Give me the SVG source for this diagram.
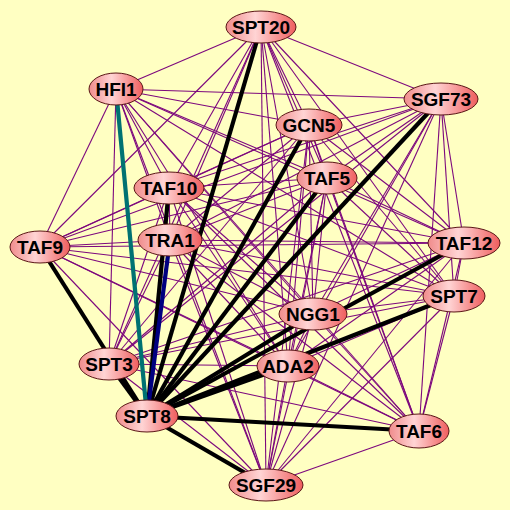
<svg xmlns="http://www.w3.org/2000/svg" width="510" height="510" viewBox="0 0 510 510">
<defs>
<linearGradient id="g" x1="0" y1="0" x2="1" y2="0">
<stop offset="0" stop-color="#f08c8c"/>
<stop offset="0.42" stop-color="#ffd4d4"/>
<stop offset="1" stop-color="#ef5e5e"/>
</linearGradient>
<style>
.e{stroke:#7d087d;stroke-width:1.1;fill:none}
.t{stroke:#000;stroke-width:4.2;fill:none}
.n ellipse{fill:url(#g);stroke:#5a1616;stroke-width:1}
.n text{font-family:"Liberation Sans",Arial,sans-serif;font-weight:bold;font-size:19px;fill:#000;text-anchor:middle}
</style>
</defs>
<rect width="510" height="510" fill="#ffffc2"/>
<g id="edges">
<line class="e" x1="261" y1="27" x2="116" y2="89"/>
<line class="e" x1="261" y1="27" x2="441" y2="99"/>
<line class="e" x1="261" y1="27" x2="309" y2="125"/>
<line class="e" x1="261" y1="27" x2="327" y2="178"/>
<line class="e" x1="261" y1="27" x2="169" y2="188"/>
<line class="e" x1="261" y1="27" x2="170" y2="240"/>
<line class="e" x1="261" y1="27" x2="40" y2="247"/>
<line class="e" x1="261" y1="27" x2="464" y2="243"/>
<line class="e" x1="261" y1="27" x2="454" y2="296"/>
<line class="e" x1="261" y1="27" x2="313" y2="314"/>
<line class="e" x1="261" y1="27" x2="288" y2="366"/>
<line class="e" x1="261" y1="27" x2="109" y2="364"/>
<line class="e" x1="261" y1="27" x2="419" y2="431"/>
<line class="e" x1="261" y1="27" x2="266" y2="485"/>
<line class="e" x1="116" y1="89" x2="441" y2="99"/>
<line class="e" x1="116" y1="89" x2="309" y2="125"/>
<line class="e" x1="116" y1="89" x2="327" y2="178"/>
<line class="e" x1="116" y1="89" x2="169" y2="188"/>
<line class="e" x1="116" y1="89" x2="170" y2="240"/>
<line class="e" x1="116" y1="89" x2="40" y2="247"/>
<line class="e" x1="116" y1="89" x2="464" y2="243"/>
<line class="e" x1="116" y1="89" x2="454" y2="296"/>
<line class="e" x1="116" y1="89" x2="313" y2="314"/>
<line class="e" x1="116" y1="89" x2="288" y2="366"/>
<line class="e" x1="116" y1="89" x2="109" y2="364"/>
<line class="e" x1="116" y1="89" x2="419" y2="431"/>
<line class="e" x1="116" y1="89" x2="266" y2="485"/>
<line class="e" x1="441" y1="99" x2="309" y2="125"/>
<line class="e" x1="441" y1="99" x2="327" y2="178"/>
<line class="e" x1="441" y1="99" x2="169" y2="188"/>
<line class="e" x1="441" y1="99" x2="170" y2="240"/>
<line class="e" x1="441" y1="99" x2="40" y2="247"/>
<line class="e" x1="441" y1="99" x2="464" y2="243"/>
<line class="e" x1="441" y1="99" x2="454" y2="296"/>
<line class="e" x1="441" y1="99" x2="313" y2="314"/>
<line class="e" x1="441" y1="99" x2="288" y2="366"/>
<line class="e" x1="441" y1="99" x2="109" y2="364"/>
<line class="e" x1="441" y1="99" x2="419" y2="431"/>
<line class="e" x1="441" y1="99" x2="266" y2="485"/>
<line class="e" x1="309" y1="125" x2="327" y2="178"/>
<line class="e" x1="309" y1="125" x2="169" y2="188"/>
<line class="e" x1="309" y1="125" x2="170" y2="240"/>
<line class="e" x1="309" y1="125" x2="40" y2="247"/>
<line class="e" x1="309" y1="125" x2="464" y2="243"/>
<line class="e" x1="309" y1="125" x2="454" y2="296"/>
<line class="e" x1="309" y1="125" x2="313" y2="314"/>
<line class="e" x1="309" y1="125" x2="288" y2="366"/>
<line class="e" x1="309" y1="125" x2="109" y2="364"/>
<line class="e" x1="309" y1="125" x2="419" y2="431"/>
<line class="e" x1="309" y1="125" x2="266" y2="485"/>
<line class="e" x1="327" y1="178" x2="169" y2="188"/>
<line class="e" x1="327" y1="178" x2="170" y2="240"/>
<line class="e" x1="327" y1="178" x2="40" y2="247"/>
<line class="e" x1="327" y1="178" x2="464" y2="243"/>
<line class="e" x1="327" y1="178" x2="454" y2="296"/>
<line class="e" x1="327" y1="178" x2="313" y2="314"/>
<line class="e" x1="327" y1="178" x2="288" y2="366"/>
<line class="e" x1="327" y1="178" x2="109" y2="364"/>
<line class="e" x1="327" y1="178" x2="419" y2="431"/>
<line class="e" x1="327" y1="178" x2="266" y2="485"/>
<line class="e" x1="169" y1="188" x2="170" y2="240"/>
<line class="e" x1="169" y1="188" x2="40" y2="247"/>
<line class="e" x1="169" y1="188" x2="464" y2="243"/>
<line class="e" x1="169" y1="188" x2="454" y2="296"/>
<line class="e" x1="169" y1="188" x2="313" y2="314"/>
<line class="e" x1="169" y1="188" x2="288" y2="366"/>
<line class="e" x1="169" y1="188" x2="109" y2="364"/>
<line class="e" x1="169" y1="188" x2="419" y2="431"/>
<line class="e" x1="169" y1="188" x2="266" y2="485"/>
<line class="e" x1="170" y1="240" x2="40" y2="247"/>
<line class="e" x1="170" y1="240" x2="464" y2="243"/>
<line class="e" x1="170" y1="240" x2="454" y2="296"/>
<line class="e" x1="170" y1="240" x2="313" y2="314"/>
<line class="e" x1="170" y1="240" x2="288" y2="366"/>
<line class="e" x1="170" y1="240" x2="109" y2="364"/>
<line class="e" x1="170" y1="240" x2="419" y2="431"/>
<line class="e" x1="170" y1="240" x2="266" y2="485"/>
<line class="e" x1="40" y1="247" x2="464" y2="243"/>
<line class="e" x1="40" y1="247" x2="454" y2="296"/>
<line class="e" x1="40" y1="247" x2="313" y2="314"/>
<line class="e" x1="40" y1="247" x2="288" y2="366"/>
<line class="e" x1="40" y1="247" x2="419" y2="431"/>
<line class="e" x1="40" y1="247" x2="266" y2="485"/>
<line class="e" x1="464" y1="243" x2="454" y2="296"/>
<line class="e" x1="464" y1="243" x2="313" y2="314"/>
<line class="e" x1="464" y1="243" x2="288" y2="366"/>
<line class="e" x1="464" y1="243" x2="109" y2="364"/>
<line class="e" x1="464" y1="243" x2="419" y2="431"/>
<line class="e" x1="464" y1="243" x2="266" y2="485"/>
<line class="e" x1="454" y1="296" x2="313" y2="314"/>
<line class="e" x1="454" y1="296" x2="288" y2="366"/>
<line class="e" x1="454" y1="296" x2="109" y2="364"/>
<line class="e" x1="454" y1="296" x2="419" y2="431"/>
<line class="e" x1="454" y1="296" x2="266" y2="485"/>
<line class="e" x1="313" y1="314" x2="288" y2="366"/>
<line class="e" x1="313" y1="314" x2="109" y2="364"/>
<line class="e" x1="313" y1="314" x2="419" y2="431"/>
<line class="e" x1="313" y1="314" x2="266" y2="485"/>
<line class="e" x1="288" y1="366" x2="109" y2="364"/>
<line class="e" x1="288" y1="366" x2="419" y2="431"/>
<line class="e" x1="288" y1="366" x2="266" y2="485"/>
<line class="e" x1="109" y1="364" x2="419" y2="431"/>
<line class="e" x1="109" y1="364" x2="266" y2="485"/>
<line class="e" x1="419" y1="431" x2="266" y2="485"/>
<line class="t" x1="147" y1="416" x2="261" y2="27"/>
<line class="t" x1="147" y1="416" x2="441" y2="99"/>
<line class="t" x1="147" y1="416" x2="309" y2="125"/>
<line class="t" x1="147" y1="416" x2="327" y2="178"/>
<line class="t" x1="147" y1="416" x2="169" y2="188"/>
<line class="t" x1="147" y1="416" x2="40" y2="247"/>
<line class="t" x1="147" y1="416" x2="109" y2="364"/>
<line class="t" x1="147" y1="416" x2="464" y2="243"/>
<line class="t" x1="147" y1="416" x2="454" y2="296"/>
<line class="t" x1="147" y1="416" x2="313" y2="314"/>
<line class="t" x1="147" y1="416" x2="288" y2="366"/>
<line class="t" x1="147" y1="416" x2="419" y2="431"/>
<line class="t" x1="147" y1="416" x2="266" y2="485"/>
<line class="t" x1="147" y1="416" x2="170" y2="240" style="stroke:#000080"/>
<line class="t" x1="147" y1="416" x2="116" y2="89" style="stroke:#007272"/>
</g>
<g id="n-SPT20" class="n"><ellipse cx="261" cy="27" rx="35" ry="16"/><text x="261" y="34">SPT20</text></g>
<g id="n-HFI1" class="n"><ellipse cx="116" cy="89" rx="27" ry="16"/><text x="116" y="96">HFI1</text></g>
<g id="n-SGF73" class="n"><ellipse cx="441" cy="99" rx="37" ry="16"/><text x="441" y="106">SGF73</text></g>
<g id="n-GCN5" class="n"><ellipse cx="309" cy="125" rx="33" ry="16"/><text x="309" y="132">GCN5</text></g>
<g id="n-TAF5" class="n"><ellipse cx="327" cy="178" rx="30" ry="16"/><text x="327" y="185">TAF5</text></g>
<g id="n-TAF10" class="n"><ellipse cx="169" cy="188" rx="35" ry="16"/><text x="169" y="195">TAF10</text></g>
<g id="n-TRA1" class="n"><ellipse cx="170" cy="240" rx="32" ry="16"/><text x="170" y="247">TRA1</text></g>
<g id="n-TAF9" class="n"><ellipse cx="40" cy="247" rx="30" ry="16"/><text x="40" y="254">TAF9</text></g>
<g id="n-TAF12" class="n"><ellipse cx="464" cy="243" rx="36" ry="16"/><text x="464" y="250">TAF12</text></g>
<g id="n-SPT7" class="n"><ellipse cx="454" cy="296" rx="31" ry="16"/><text x="454" y="303">SPT7</text></g>
<g id="n-NGG1" class="n"><ellipse cx="313" cy="314" rx="34" ry="16"/><text x="313" y="321">NGG1</text></g>
<g id="n-ADA2" class="n"><ellipse cx="288" cy="366" rx="31" ry="16"/><text x="288" y="373">ADA2</text></g>
<g id="n-SPT3" class="n"><ellipse cx="109" cy="364" rx="30" ry="16"/><text x="109" y="371">SPT3</text></g>
<g id="n-SPT8" class="n"><ellipse cx="147" cy="416" rx="31" ry="16"/><text x="147" y="423">SPT8</text></g>
<g id="n-TAF6" class="n"><ellipse cx="419" cy="431" rx="30" ry="17"/><text x="419" y="438">TAF6</text></g>
<g id="n-SGF29" class="n"><ellipse cx="266" cy="485" rx="37" ry="16"/><text x="266" y="492">SGF29</text></g>
</svg>
